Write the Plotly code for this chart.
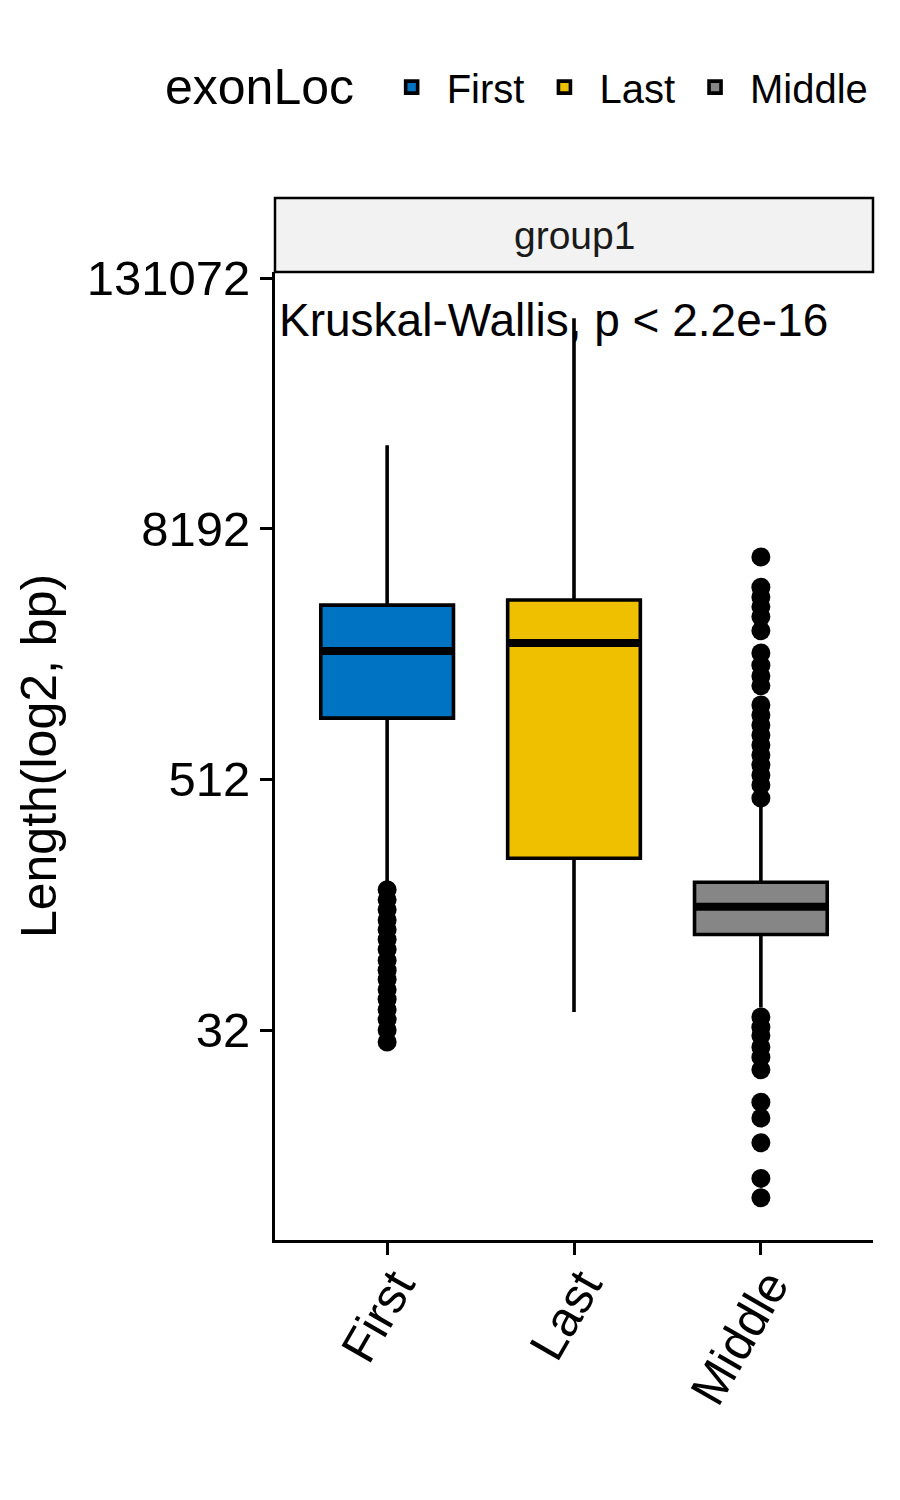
import plotly.graph_objects as go

categories = ["First", "Last", "Middle"]
colors = ["#0073C2", "#EFC000", "#868686"]

# box statistics (bp)
lower = [158, 39, 41]
q1 = [1008, 214, 92]
median = [2120, 2312, 125]
q3 = [3515, 3720, 164]
upper = [20600, 84100, 385]

outliers = {
    "First": [151, 135, 121, 108, 97, 87, 78, 69, 62, 56, 50, 45, 40, 36, 32, 28],
    "Last": [],
    "Middle": [5985, 4290, 3850, 3450, 3090, 2650, 2070, 1810, 1605, 1440,
               1165, 1043, 934, 836, 749, 670, 600, 537, 481, 416,
               37, 33, 30, 26.5, 23.7, 20.6, 14.4, 12.1, 9.2, 6.2, 5.0],
}

ytick_vals = [32, 512, 8192, 131072]
ytick_text = ["32", "512", "8192", "131072"]

font = "Liberation Sans, Arial, sans-serif"
box_w = 0.71

fig = go.Figure()
for i, cat in enumerate(categories):
    fig.add_trace(go.Box(
        x=[cat], name=cat,
        lowerfence=[lower[i]], q1=[q1[i]], median=[median[i]],
        q3=[q3[i]], upperfence=[upper[i]],
        fillcolor=colors[i], line=dict(color="black", width=3.6),
        whiskerwidth=0, width=box_w, boxpoints=False,
        hoverinfo="skip",
    ))
    if outliers[cat]:
        fig.add_trace(go.Scatter(
            x=[cat] * len(outliers[cat]), y=outliers[cat], mode="markers",
            marker=dict(color="black", size=19), showlegend=False,
            hoverinfo="skip",
        ))
    # thicker median bar, as ggplot draws it
    fig.add_shape(type="line", xref="x", yref="y",
                  x0=i - box_w / 2, x1=i + box_w / 2, y0=median[i], y1=median[i],
                  line=dict(color="black", width=8))

# facet strip
fig.add_shape(type="rect", xref="paper", yref="paper", x0=0, x1=1, y0=1, y1=1.0764,
              fillcolor="#F2F2F2", line=dict(color="black", width=2.5))
fig.add_annotation(text="group1", xref="paper", yref="paper", x=0.5, y=1.038,
                   xanchor="center", yanchor="middle", showarrow=False,
                   font=dict(size=39, color="#1A1A1A", family=font))

fig.add_annotation(text="Kruskal-Wallis, p < 2.2e-16", xref="paper", yref="paper",
                   x=0.003, y=0.950, xanchor="left", yanchor="middle", showarrow=False,
                   font=dict(size=46, color="black", family=font))

# legend title
fig.add_annotation(text="exonLoc", xref="paper", yref="paper",
                   x=-0.187, y=1.191, xanchor="left", yanchor="middle", showarrow=False,
                   font=dict(size=50, color="black", family=font))

fig.update_layout(
    width=900, height=1500,
    margin=dict(l=267, r=35, t=264, b=268, autoexpand=False),
    plot_bgcolor="white", paper_bgcolor="white",
    font=dict(family=font, color="black"),
    showlegend=True,
    legend=dict(
        orientation="h", x=0.17, xanchor="left", y=1.191, yanchor="middle",
        font=dict(size=40), valign="middle", itemwidth=60,
    ),
    xaxis=dict(
        categoryorder="array", categoryarray=categories,
        range=[-0.6, 2.6], showline=True, linecolor="black", linewidth=3,
        ticks="outside", ticklen=12, tickwidth=3, tickcolor="black",
        tickangle=-60, tickfont=dict(size=49, color="black"),
        ticklabelstandoff=-18, ticklabelshift=8,
        showgrid=False, zeroline=False,
    ),
    yaxis=dict(
        type="log", range=[0.4964, 5.1464],
        tickvals=ytick_vals, ticktext=ytick_text,
        showline=True, linecolor="black", linewidth=3,
        ticks="outside", ticklen=12, tickwidth=3, tickcolor="black",
        tickfont=dict(size=49, color="black"),
        title=dict(text="Length(log2, bp)", font=dict(size=50), standoff=15),
        showgrid=False, zeroline=False,
    ),
)

fig.write_html("out.html")
